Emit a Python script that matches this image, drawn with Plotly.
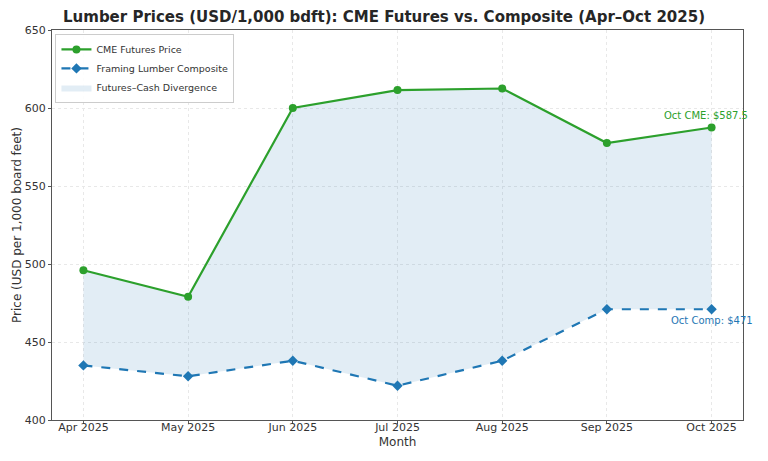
import plotly.graph_objects as go

months = ["Apr 2025", "May 2025", "Jun 2025", "Jul 2025", "Aug 2025", "Sep 2025", "Oct 2025"]
cme = [496, 479, 600, 611.5, 612.5, 577.5, 587.5]
composite = [435, 428, 438, 422, 438, 471, 471]
yticks = [400, 450, 500, 550, 600, 650]

green = "#2ca02c"
blue = "#1f77b4"
font = "DejaVu Sans"

fig = go.Figure()
fig.add_trace(go.Scatter(x=months, y=composite, mode="lines", line=dict(width=0),
                         showlegend=False, hoverinfo="skip"))
fig.add_trace(go.Scatter(x=months, y=cme, mode="lines", line=dict(width=0),
                         fill="tonexty", fillcolor="rgba(31,119,180,0.13)",
                         name="Futures–Cash Divergence", legendrank=3))
fig.add_trace(go.Scatter(x=months, y=cme, mode="lines+markers", name="CME Futures Price",
                         line=dict(color=green, width=2.2),
                         marker=dict(symbol="circle", size=8, color=green), legendrank=1))
fig.add_trace(go.Scatter(x=months, y=composite, mode="lines+markers", name="Framing Lumber Composite",
                         line=dict(color=blue, width=2.2, dash="dash"),
                         marker=dict(symbol="diamond", size=8, color=blue), legendrank=2))

fig.add_annotation(x=months[-1], y=cme[-1], text="Oct CME: $%g" % cme[-1], showarrow=False,
                   xanchor="center", yanchor="bottom", yshift=5, xshift=-6,
                   font=dict(family=font, size=10, color=green))
fig.add_annotation(x=months[-1], y=composite[-1], text="Oct Comp: $%g" % composite[-1], showarrow=False,
                   xanchor="center", yanchor="top", yshift=-4, xshift=0,
                   font=dict(family=font, size=10, color=blue))

fig.update_layout(
    width=768, height=461,
    margin=dict(l=52, r=25, t=30, b=41, autoexpand=False),
    paper_bgcolor="white", plot_bgcolor="white",
    font=dict(family=font, size=11, color="#333333"),
    title=dict(text="<b>Lumber Prices (USD/1,000 bdft): CME Futures vs. Composite (Apr–Oct 2025)</b>",
               x=0.5, xanchor="center", y=0.963, yanchor="middle",
               font=dict(family=font, size=15, color="#262626")),
    legend=dict(x=0.005, y=0.99, xanchor="left", yanchor="top", traceorder="normal",
                bgcolor="rgba(255,255,255,0.9)", bordercolor="#cccccc", borderwidth=1,
                font=dict(family=font, size=9.5, color="#333333"), tracegroupgap=0,
                itemwidth=30),
    showlegend=True,
)
fig.update_xaxes(type="category", range=[-0.3, 6.3], automargin=False,
                 title=dict(text="Month", font=dict(size=12), standoff=4),
                 showgrid=True, gridcolor="#e8e8e8", griddash="dot", gridwidth=1,
                 showline=True, linecolor="#555555", linewidth=1, mirror=True,
                 ticks="outside", ticklen=3, tickcolor="#555555", tickfont=dict(size=11),
                 ticklabelstandoff=-6)
fig.update_yaxes(range=[400, 650], tickvals=yticks, automargin=False,
                 title=dict(text="Price (USD per 1,000 board feet)", font=dict(size=12), standoff=0),
                 showgrid=True, gridcolor="#e8e8e8", griddash="dot", gridwidth=1,
                 showline=True, linecolor="#555555", linewidth=1, mirror=True, zeroline=False,
                 ticks="outside", ticklen=3, tickcolor="#555555", tickfont=dict(size=11))

fig.write_html("out.html")
